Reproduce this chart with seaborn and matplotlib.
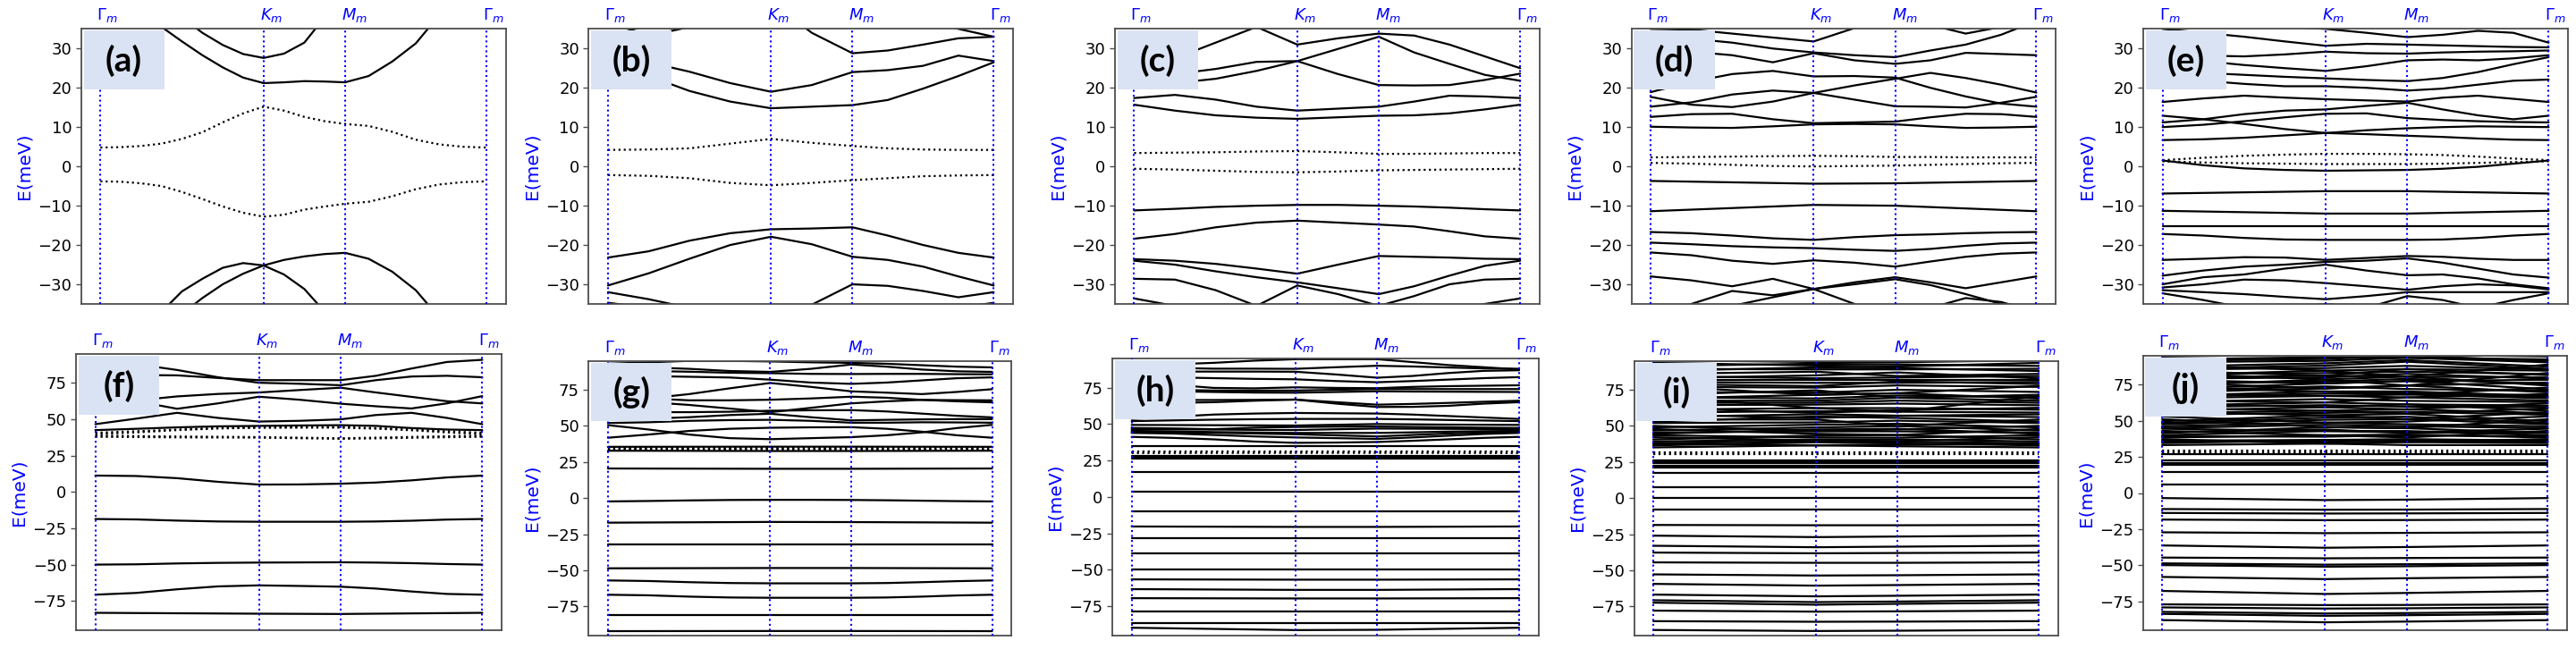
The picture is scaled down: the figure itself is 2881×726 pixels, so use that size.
import numpy as np
import pandas as pd
import matplotlib
matplotlib.use("Agg")
import matplotlib.pyplot as plt
import matplotlib.transforms as mtransforms
from matplotlib.patches import Rectangle
import seaborn as sns

# ---------------- k-path ----------------
K_HS = [0.0, 1.0, 1.5, 2.366]
K_FINE = [0.0, 0.25, 0.5, 0.75, 1.0, 1.25, 1.5, 1.7165, 1.933, 2.1495, 2.366]
K_FINER = [0.0, 0.125, 0.25, 0.375, 0.5, 0.625, 0.75, 0.875, 1.0,
           1.125, 1.25, 1.375, 1.5, 1.644, 1.789, 1.933, 2.077, 2.222, 2.366]
HS_LABELS = [r"$\Gamma_m$", r"$K_m$", r"$M_m$", r"$\Gamma_m$"]
PANEL_LABELS = ["(a)", "(b)", "(c)", "(d)", "(e)", "(f)", "(g)", "(h)", "(i)", "(j)"]
YTICKS_TOP = [-30, -20, -10, 0, 10, 20, 30]
YTICKS_BOT = [-75, -50, -25, 0, 25, 50, 75]

# ---------------- band data (meV) ----------------
a_solid = [
    [42, 41, 39, 35.5, 31.8, 28.3, 25.2, 22.6, 21.2, 21.4, 21.7, 21.6, 21.4, 23, 26.7, 31.3, 38.5, 41, 42],
    [48, 47, 45, 42, 38, 34, 30.9, 28.6, 27.6, 28.7, 31.5, 38, 40, 43, 45, 47, 48, 48, 48],
    [-48, -46, -42, -37, -31.8, -28.6, -25.8, -24.6, -25.2, -27.5, -31.2, -37, -42, -46, -48, -48, -48, -48, -48],
    [-60, -55, -48, -42, -37.5, -33.5, -30, -27.3, -25.2, -23.8, -22.9, -22.3, -22, -23.5, -26.8, -31.5, -38.5, -42, -44],
]
a_dotted = [
    [4.8, 4.9, 5.2, 5.8, 7.0, 8.7, 11.2, 13.5, 15.2, 14.2, 12.6, 11.5, 10.8, 10.3, 8.8, 6.8, 5.6, 5.0, 4.8],
    [-3.8, -3.9, -4.3, -5.0, -6.5, -8.3, -10.2, -11.8, -12.8, -12.3, -11.0, -10.2, -9.5, -9.0, -7.6, -5.8, -4.6, -4.0, -3.8],
]

b_solid = [
    [26.5, 23, 19.2, 16.5, 14.8, 15.2, 15.6, 16.9, 19.8, 23, 26.5],
    [27, 26.5, 24.1, 21.2, 19, 20.7, 24, 24.5, 25.6, 28.2, 26.8],
    [33, 33.2, 35.5, 39, 42, 34, 28.8, 29.5, 31, 32.6, 33],
    [33, 36, 40, 43, 45, 42, 40, 38, 37, 35, 33],
    [-23.2, -21.6, -18.9, -17, -16, -15.8, -15.5, -17.6, -20, -22, -23.2],
    [-30.3, -27.2, -23.5, -20, -17.9, -19.8, -23, -23.8, -25.5, -28, -30.3],
    [-32, -33.8, -36, -39, -40, -35.2, -30, -30.4, -31.7, -33.3, -32],
    [-34.7, -36, -38, -40, -42, -42, -40, -38, -37, -36, -34.7],
]
b_dotted = [
    [4.2, 4.3, 4.6, 5.8, 7.0, 6.0, 5.2, 4.6, 4.3, 4.2, 4.2],
    [-2.2, -2.4, -3.0, -4.2, -4.8, -4.2, -3.5, -3.0, -2.5, -2.3, -2.2],
]

c_solid = [
    [15.7, 14.2, 13.0, 12.4, 12.1, 12.5, 12.9, 13.0, 13.5, 14.5, 15.7],
    [17.4, 18.2, 17.0, 15.2, 14.2, 14.7, 15.2, 16.5, 18.0, 17.8, 17.4],
    [21.8, 21.2, 22.3, 24.3, 26.8, 29.9, 33.0, 29.0, 26.1, 23.3, 21.8],
    [23.6, 23.5, 24.8, 26.6, 26.8, 23.5, 20.7, 20.6, 20.7, 22.0, 23.6],
    [25.0, 27.5, 31.5, 35.5, 31.0, 32.6, 33.8, 33.3, 31.0, 28.0, 25.0],
    [-11.2, -10.8, -10.3, -10.0, -9.8, -9.8, -10.0, -10.2, -10.5, -10.9, -11.2],
    [-18.4, -17.2, -15.5, -14.3, -13.8, -14.3, -14.8, -15.3, -16.5, -17.8, -18.4],
    [-23.6, -24.0, -24.8, -26.0, -27.3, -25.0, -22.8, -23.0, -23.2, -23.5, -23.6],
    [-24.0, -25.0, -26.7, -28.2, -29.5, -31.0, -32.5, -30.5, -27.8, -25.3, -24.0],
    [-28.6, -28.8, -31.5, -35.5, -30.3, -32.5, -35.5, -33.0, -30.0, -28.8, -28.6],
    [-33.6, -35.5, -37, -38, -38, -38, -38, -38, -37, -35, -33.6],
]
c_dotted = [
    [3.4, 3.5, 3.6, 3.8, 3.9, 3.6, 3.2, 3.2, 3.3, 3.4, 3.4],
    [-0.6, -0.8, -1.1, -1.4, -1.5, -1.3, -1.0, -0.9, -0.8, -0.7, -0.6],
]

d_solid = [
    [-3.7, -4.4, -4.3, -3.7],
    [-11.4, -9.8, -10.0, -11.4],
    [-16.7, -17.0, -17.6, -18.3, -18.7, -18.0, -17.5, -17.3, -17.0, -16.8, -16.7],
    [-19.4, -19.8, -20.3, -20.6, -20.8, -21.2, -21.5, -21.0, -20.2, -19.6, -19.4],
    [-21.9, -22.6, -24.0, -24.8, -23.9, -24.5, -25.5, -24.2, -23.0, -22.2, -21.9],
    [-28.0, -29.0, -30.5, -28.6, -31.2, -29.5, -28.2, -29.5, -31.0, -29.5, -28.0],
    [-40.0, -35.0, -31.7, -32.8, -31.2, -30.0, -28.7, -30.2, -32.5, -35.0, -38.0],
    [-42.0, -38.0, -35.5, -33.3, -31.2, -35.0, -40.0, -36.0, -33.5, -34.5, -37.0],
    [10.1, 9.9, 9.8, 10.2, 10.7, 10.8, 10.7, 10.2, 9.8, 9.9, 10.1],
    [12.6, 13.3, 13.4, 12.0, 11.0, 11.2, 11.4, 12.5, 13.4, 13.3, 12.6],
    [17.7, 15.7, 15.1, 16.5, 18.7, 20.6, 22.3, 23.8, 22.5, 20.8, 18.8],
    [15.2, 16.3, 18.3, 19.3, 18.7, 17.0, 15.3, 15.2, 15.0, 16.2, 17.7],
    [18.9, 21.5, 23.5, 24.3, 22.9, 23.0, 22.6, 20.0, 17.8, 16.0, 15.2],
    [29.5, 29.2, 28.3, 26.5, 28.8, 27.0, 26.1, 27.0, 28.9, 28.6, 28.3],
    [33.0, 32.5, 31.5, 30.0, 29.0, 28.3, 27.8, 29.5, 31.0, 33.5, 37.0],
    [35.0, 34.8, 33.8, 32.8, 31.8, 35.2, 37.0, 36.0, 33.8, 35.5, 37.0],
]
d_dotted = [
    [2.3, 2.4, 2.5, 2.6, 2.7, 2.6, 2.4, 2.4, 2.3, 2.3, 2.3],
    [0.9, 0.7, 0.4, 0.1, 0.0, 0.1, 0.2, 0.4, 0.6, 0.8, 0.9],
]

e_solid = [
    [1.5, 0.3, -0.5, -0.9, -1.1, -1.0, -0.9, -0.6, -0.1, 0.7, 1.5],
    [-6.9, -6.3, -6.3, -6.9],
    [-11.3, -12.0, -12.0, -11.3],
    [-15.3, -15.3, -15.3, -15.3],
    [-17.2, -17.6, -18.2, -18.6, -18.7, -18.7, -18.7, -18.6, -18.2, -17.6, -17.2],
    [-23.8, -23.5, -23.1, -23.2, -23.8, -23.3, -22.8, -23.0, -23.5, -23.8, -23.8],
    [-27.8, -26.5, -25.5, -25.0, -24.3, -24.0, -23.4, -24.5, -26.0, -27.5, -28.3],
    [-30.0, -28.2, -27.5, -26.0, -25.0, -26.5, -27.7, -27.5, -28.5, -30.0, -31.0],
    [-30.8, -30.0, -28.8, -29.0, -29.7, -30.5, -31.4, -30.5, -30.0, -30.3, -31.3],
    [-31.5, -32.0, -32.5, -33.2, -33.8, -33.0, -32.0, -32.0, -32.0, -32.0, -32.0],
    [-32.3, -34.0, -36.0, -36.0, -35.0, -36.0, -33.0, -34.0, -36.0, -34.0, -32.3],
    [6.7, 6.9, 7.3, 7.9, 8.5, 8.2, 7.8, 7.5, 7.1, 6.8, 6.7],
    [10.0, 10.6, 11.5, 12.5, 13.4, 13.5, 12.3, 11.8, 11.5, 11.3, 11.2],
    [12.9, 12.0, 10.8, 9.5, 8.5, 9.2, 9.7, 10.0, 10.2, 10.1, 10.0],
    [11.2, 12.0, 13.3, 14.2, 14.5, 15.4, 16.2, 14.5, 13.0, 12.0, 12.9],
    [16.4, 17.3, 18.0, 17.5, 17.1, 16.8, 16.5, 17.5, 18.0, 17.2, 16.4],
    [22.1, 21.8, 21.0, 20.4, 20.4, 20.0, 19.3, 19.8, 20.8, 21.8, 22.1],
    [24.5, 23.8, 23.3, 22.8, 22.4, 22.0, 21.7, 22.5, 24.0, 26.0, 27.8],
    [27.5, 26.8, 25.8, 25.0, 24.3, 25.5, 27.0, 27.2, 27.0, 27.5, 28.3],
    [28.3, 28.2, 28.0, 28.5, 29.2, 28.8, 28.7, 29.0, 29.2, 29.3, 29.5],
    [35.0, 34.0, 33.0, 31.8, 30.7, 31.2, 31.0, 30.8, 30.6, 30.4, 30.3],
    [38.0, 37.0, 36.0, 35.5, 35.0, 34.0, 32.9, 33.5, 34.5, 34.0, 31.5],
]
e_dotted = [
    [1.6, 2.2, 2.7, 3.0, 3.2, 3.2, 3.1, 2.9, 2.5, 2.0, 1.6],
    [1.3, 1.0, 0.8, 0.7, 0.6, 0.6, 0.6, 0.7, 0.9, 1.1, 1.3],
]

f_solid = [
    [11.3, 11.0, 9.5, 7.0, 5.1, 5.2, 5.7, 6.5, 8.0, 10.0, 11.3],
    [-18.6, -18.9, -19.7, -20.3, -20.5, -20.5, -20.5, -20.3, -19.8, -19.0, -18.6],
    [-50.0, -49.8, -49.2, -48.8, -48.6, -48.5, -48.4, -48.6, -49.0, -49.6, -50.0],
    [-70.7, -69.5, -67.0, -65.0, -64.3, -64.7, -65.2, -66.5, -68.5, -70.2, -70.7],
    [-83.2, -83.8, -84.0, -83.2],
    [42.6, 43.5, 44.5, 45.2, 45.5, 45.8, 46.0, 45.5, 44.0, 43.0, 42.6],
    [46.7, 50.5, 54.5, 51.0, 48.5, 49.0, 50.0, 53.0, 54.5, 51.0, 46.7],
    [66.0, 62.5, 57.3, 61.0, 65.6, 63.5, 60.8, 59.0, 57.5, 61.0, 66.0],
    [61.0, 63.0, 65.8, 67.5, 68.5, 70.2, 71.8, 68.5, 65.5, 62.5, 61.0],
    [91.0, 88.0, 84.0, 79.0, 75.2, 74.5, 73.5, 77.0, 79.5, 80.0, 79.0],
    [80.5, 80.5, 80.3, 78.5, 77.0, 77.0, 77.0, 80.0, 85.0, 89.5, 91.0],
]
f_dotted = [
    [40.8, 41.8, 43.0, 44.0, 44.5, 44.6, 44.6, 44.0, 43.0, 41.8, 40.8],
    [39.8, 41.0, 42.6, 43.7, 44.2, 44.3, 44.3, 43.6, 42.5, 41.0, 39.8],
    [38.8, 38.5, 38.2, 38.0, 37.8, 37.4, 37.0, 37.4, 37.9, 38.4, 38.8],
    [38.0, 37.8, 37.6, 37.5, 37.4, 37.0, 36.6, 36.9, 37.3, 37.7, 38.0],
]

g_solid = [
    [20.5, 20.3, 20.3, 20.5],
    [-2.3, -2.0, -1.6, -1.3, -1.2, -1.2, -1.3, -1.5, -1.8, -2.1, -2.3],
    [-17.0, -16.5, -16.6, -17.0],
    [-32.3, -32.3, -32.3, -32.3],
    [-48.6, -48.4, -48.4, -48.6],
    [-57.0, -57.4, -58.2, -58.8, -59.0, -59.0, -59.0, -58.8, -58.2, -57.5, -57.0],
    [-66.9, -67.3, -68.2, -68.8, -69.0, -69.0, -69.0, -68.8, -68.2, -67.4, -66.9],
    [-80.7, -80.7, -80.7, -80.7],
    [-92.1, -92.0, -92.0, -92.1],
    [35.5, 35.6, 35.6, 35.5],
    [32.8, 32.6, 32.6, 32.8],
    [50.5, 47.5, 44.0, 41.5, 40.8, 41.5, 42.2, 43.5, 45.5, 48.5, 50.7],
    [41.8, 44.0, 46.5, 48.0, 48.7, 49.0, 49.1, 48.0, 46.0, 43.5, 41.8],
    [52.0, 52.5, 53.5, 54.0, 54.2, 53.5, 52.2, 52.2, 52.5, 52.4, 52.2],
    [54.7, 55.0, 56.0, 57.5, 58.4, 56.0, 53.8, 54.2, 54.5, 54.7, 54.7],
    [59.4, 59.5, 59.5, 59.8, 60.5, 60.8, 60.9, 60.0, 58.5, 57.0, 55.9],
    [67.7, 66.5, 64.5, 62.0, 59.5, 62.5, 65.6, 67.0, 68.0, 67.8, 67.7],
    [70.8, 69.0, 67.7, 67.7, 68.1, 69.0, 70.2, 69.5, 68.0, 67.0, 66.3],
    [66.3, 69.0, 72.0, 76.0, 79.7, 77.0, 73.9, 73.0, 72.0, 73.5, 75.4],
    [85.0, 84.5, 84.0, 83.5, 82.0, 80.0, 79.1, 80.0, 81.5, 83.0, 83.6],
    [88.5, 88.0, 87.5, 86.8, 86.5, 86.0, 85.9, 86.0, 86.0, 85.8, 85.7],
    [90.5, 90.5, 89.5, 88.0, 87.4, 89.5, 92.5, 91.0, 89.0, 87.8, 87.4],
    [93.0, 94.0, 95.0, 95.0, 94.6, 94.0, 93.6, 93.0, 92.0, 91.0, 90.5],
]
g_dotted = [
    [34.6, 34.7, 34.7, 34.6],
    [33.8, 33.8, 33.8, 33.8],
    [34.2, 34.2, 34.2, 34.2],
]

h_solid = [
    [16.8, 16.8, 16.8, 16.8],
    [3.7, 3.7, 3.7, 3.7],
    [-10.2, -10.2, -10.2, -10.2],
    [-20.3, -20.6, -20.6, -20.3],
    [-28.5, -28.5, -28.5, -28.5],
    [-38.9, -38.9, -38.9, -38.9],
    [-49.8, -49.8, -49.8, -49.8],
    [-56.6, -56.8, -56.8, -56.6],
    [-63.3, -63.8, -63.8, -63.3],
    [-69.5, -69.7, -69.7, -69.5],
    [-78.7, -78.7, -78.7, -78.7],
    [-86.9, -86.9, -86.9, -86.9],
    [-89.8, -91.4, -91.2, -89.8],
    [28.3, 28.3, 28.3, 28.3],
    [27.0, 27.0, 27.0, 27.0],
    [26.2, 26.2, 26.2, 26.2],
    [34.6, 34.6, 34.6, 34.6],
    [41.2, 40.5, 39.5, 38.0, 37.1, 37.3, 37.7, 38.5, 39.5, 40.5, 41.2],
    [43.9, 43.5, 42.5, 41.5, 40.8, 40.3, 39.8, 40.8, 42.0, 43.2, 43.9],
    [45.3, 45.0, 44.5, 44.2, 43.9, 43.9, 43.9, 44.3, 44.8, 45.1, 45.3],
    [46.5, 46.4, 46.2, 46.0, 45.9, 46.4, 46.9, 46.8, 46.7, 46.6, 46.5],
    [49.4, 49.3, 49.2, 49.1, 49.0, 49.5, 50.0, 49.8, 49.6, 49.5, 49.4],
    [52.0, 52.5, 53.0, 53.3, 53.5, 53.5, 53.5, 53.2, 52.8, 52.4, 52.0],
    [53.5, 55.0, 56.5, 57.2, 57.6, 57.4, 57.2, 56.5, 55.5, 54.5, 53.5],
    [65.0, 64.5, 65.0, 66.0, 66.8, 64.0, 61.7, 61.8, 62.5, 64.0, 65.0],
    [66.0, 66.5, 66.5, 66.6, 66.8, 65.0, 63.3, 63.8, 64.5, 65.3, 66.0],
    [72.5, 72.5, 72.0, 71.6, 71.5, 72.0, 72.5, 72.3, 72.2, 72.1, 72.0],
    [79.7, 77.0, 74.8, 74.5, 75.2, 74.8, 74.6, 75.5, 76.0, 76.3, 76.6],
    [82.2, 82.0, 81.5, 81.0, 80.7, 79.5, 78.7, 79.5, 80.5, 81.5, 82.2],
    [85.9, 86.0, 86.0, 86.0, 85.9, 84.0, 81.8, 83.0, 85.0, 86.5, 86.9],
    [88.9, 88.5, 88.0, 88.0, 87.9, 89.0, 90.0, 89.5, 88.8, 88.2, 87.9],
    [90.0, 91.0, 92.0, 93.5, 94.5, 94.5, 94.5, 92.5, 90.5, 89.0, 87.5],
    [44.5, 44.3, 44.0, 43.5, 43.0, 42.2, 41.5, 42.5, 43.5, 44.2, 44.5],
    [47.3, 47.0, 46.5, 47.5, 48.0, 48.2, 48.3, 48.0, 47.8, 47.5, 47.3],
    [74.0, 73.5, 73.0, 73.0, 73.0, 73.5, 74.0, 74.0, 74.0, 74.0, 74.0],
]
h_dotted = [
    [30.9, 30.9, 30.9, 30.9],
    [30.1, 30.2, 30.2, 30.1],
]

i_solid = [
    [17.5, 17.5, 17.5, 17.5],
    [7.6, 7.6, 7.6, 7.6],
    [0.0, 0.0, 0.0, 0.0],
    [-8.2, -8.2, -8.2, -8.2],
    [-18.6, -18.8, -18.8, -18.6],
    [-26.0, -27.0, -26.6, -26.0],
    [-33.0, -34.0, -33.6, -33.0],
    [-37.7, -38.2, -38.0, -37.7],
    [-44.5, -44.8, -44.8, -44.5],
    [-52.8, -53.6, -53.4, -52.8],
    [-59.4, -60.6, -60.2, -59.4],
    [-66.8, -68.0, -67.6, -66.8],
    [-70.7, -72.0, -71.6, -70.7],
    [-72.4, -73.8, -73.2, -72.4],
    [-77.9, -78.6, -78.4, -77.9],
    [-85.2, -85.6, -85.5, -85.2],
    [-91.3, -92.0, -91.8, -91.3],
    [26.2, 26.2, 26.2, 26.2],
    [25.2, 25.2, 25.2, 25.2],
    [24.1, 24.1, 24.1, 24.1],
    [22.7, 22.7, 22.7, 22.7],
    [21.4, 21.4, 21.4, 21.4],
    [35.1, 36.5, 35.9, 35.1],
    [36.5, 38.6, 37.9, 36.5],
    [37.5, 36.5, 37.0, 37.5],
    [38.0, 39.5, 39.0, 38.0],
    [39.2, 40.6, 40.6, 39.2],
    [40.6, 43.3, 43.7, 40.6],
    [42.1, 40.0, 39.5, 42.1],
    [43.5, 42.0, 41.8, 43.5],
    [44.5, 47.5, 48.0, 44.5],
    [45.4, 46.2, 46.2, 45.4],
    [46.8, 48.9, 49.9, 46.8],
    [47.8, 44.5, 43.7, 47.8],
    [49.0, 50.8, 51.5, 49.0],
    [50.0, 46.5, 47.5, 50.0],
    [52.0, 52.4, 53.6, 52.0],
    [53.0, 56.5, 55.5, 53.0],
    [54.4, 54.4, 49.9, 54.4],
    [56.1, 58.1, 57.1, 56.1],
    [58.0, 55.5, 57.0, 58.0],
    [59.2, 60.2, 59.8, 59.2],
    [61.2, 62.3, 62.3, 61.2],
    [62.5, 59.0, 61.0, 62.5],
    [64.3, 64.7, 65.4, 64.3],
    [66.0, 66.0, 67.5, 66.0],
    [67.4, 67.4, 69.5, 67.4],
    [68.9, 71.5, 72.6, 68.9],
    [69.8, 69.0, 71.0, 69.8],
    [70.5, 62.3, 59.8, 70.5],
    [71.5, 74.6, 69.5, 71.5],
    [73.5, 73.0, 75.0, 73.5],
    [77.0, 76.5, 78.0, 77.0],
    [77.7, 71.5, 72.6, 77.7],
    [79.0, 77.5, 80.8, 79.0],
    [80.4, 79.8, 79.8, 80.4],
    [81.9, 81.9, 81.9, 81.9],
    [82.9, 85.0, 87.0, 82.9],
    [84.5, 83.0, 83.5, 84.5],
    [86.0, 87.5, 84.5, 86.0],
    [88.0, 90.5, 90.0, 88.0],
    [89.5, 89.1, 89.1, 89.5],
    [91.5, 93.0, 92.5, 91.5],
    [93.6, 91.8, 91.1, 93.6],
    [95.5, 94.2, 94.0, 95.5],
]
i_dotted = [
    [31.8, 31.8, 31.8, 31.8],
    [30.3, 30.3, 30.3, 30.3],
]

j_solid = [
    [14.6, 14.6, 14.6, 14.6],
    [5.8, 5.8, 5.8, 5.8],
    [-3.5, -4.9, -4.6, -3.5],
    [-11.1, -11.6, -11.5, -11.1],
    [-13.8, -14.2, -14.1, -13.8],
    [-18.4, -18.8, -18.7, -18.4],
    [-27.2, -27.8, -27.6, -27.2],
    [-36.3, -37.9, -37.4, -36.3],
    [-44.7, -45.2, -45.0, -44.7],
    [-48.7, -49.6, -49.3, -48.7],
    [-49.9, -51.0, -50.7, -49.9],
    [-58.1, -59.6, -59.0, -58.1],
    [-67.8, -69.9, -69.2, -67.8],
    [-77.1, -77.6, -77.5, -77.1],
    [-79.2, -80.0, -79.8, -79.2],
    [-82.3, -83.4, -83.1, -82.3],
    [-83.7, -85.0, -84.6, -83.7],
    [-88.0, -89.5, -89.0, -88.0],
    [27.0, 27.0, 27.0, 27.0],
    [22.3, 22.3, 22.3, 22.3],
    [20.8, 20.8, 20.8, 20.8],
    [19.8, 19.8, 19.8, 19.8],
    [33.2, 34.2, 33.2, 33.2],
    [34.6, 36.7, 35.3, 34.6],
    [35.5, 35.5, 36.3, 35.5],
    [36.3, 36.7, 37.3, 36.3],
    [37.3, 34.2, 35.3, 37.3],
    [38.4, 40.0, 40.4, 38.4],
    [39.2, 39.0, 40.0, 39.2],
    [40.0, 42.9, 42.9, 40.0],
    [41.4, 45.6, 44.9, 41.4],
    [42.2, 44.0, 41.5, 42.2],
    [43.0, 40.0, 38.5, 43.0],
    [44.5, 42.9, 42.0, 44.5],
    [45.0, 47.2, 46.2, 45.0],
    [46.2, 48.7, 47.6, 46.2],
    [47.6, 50.7, 51.1, 47.6],
    [48.5, 52.2, 52.8, 48.5],
    [49.7, 53.8, 54.8, 49.7],
    [51.1, 45.6, 44.9, 51.1],
    [53.0, 48.7, 49.5, 53.0],
    [54.2, 55.5, 56.2, 54.2],
    [55.3, 57.0, 57.9, 55.3],
    [56.0, 53.8, 51.1, 56.0],
    [57.0, 59.4, 61.4, 57.0],
    [58.6, 57.0, 54.8, 58.6],
    [59.5, 60.8, 59.8, 59.5],
    [60.5, 62.7, 61.4, 60.5],
    [62.1, 59.4, 57.9, 62.1],
    [63.0, 65.0, 63.8, 63.0],
    [64.0, 62.7, 66.2, 64.0],
    [65.6, 67.2, 68.2, 65.6],
    [66.5, 68.8, 69.2, 66.5],
    [67.2, 70.3, 70.3, 67.2],
    [68.5, 67.2, 66.2, 68.5],
    [69.7, 72.4, 74.4, 69.7],
    [70.8, 73.8, 72.0, 70.8],
    [71.8, 75.9, 77.5, 71.8],
    [73.0, 70.3, 68.2, 73.0],
    [74.4, 78.6, 80.6, 74.4],
    [75.5, 77.2, 79.0, 75.5],
    [76.5, 72.4, 74.4, 76.5],
    [78.4, 75.9, 77.5, 78.4],
    [79.2, 80.0, 82.5, 79.2],
    [80.0, 81.2, 80.6, 80.0],
    [81.6, 84.7, 85.8, 81.6],
    [82.3, 83.0, 84.0, 82.3],
    [83.1, 78.6, 74.4, 83.1],
    [84.7, 81.2, 85.8, 84.7],
    [85.5, 86.5, 88.0, 85.5],
    [86.0, 88.2, 90.9, 86.0],
    [87.5, 89.8, 92.0, 87.5],
    [88.9, 84.7, 80.6, 88.9],
    [90.5, 91.5, 93.6, 90.5],
    [91.5, 92.8, 95.0, 91.5],
    [92.5, 94.0, 93.6, 92.5],
    [94.5, 96.0, 96.0, 94.5],
]
j_dotted = [
    [29.1, 29.1, 29.1, 29.1],
    [28.0, 28.0, 28.0, 28.0],
]

SOLIDS = [a_solid, b_solid, c_solid, d_solid, e_solid,
          f_solid, g_solid, h_solid, i_solid, j_solid]
DOTTEDS = [a_dotted, b_dotted, c_dotted, d_dotted, e_dotted,
           f_dotted, g_dotted, h_dotted, i_dotted, j_dotted]

# ---------------- layout (pixels: left, top, right, bottom) ----------------
W, H = 2881, 726
RECTS = [
    (90.7, 32.3, 565.6, 340), (658.4, 32.3, 1132.9, 340),
    (1246.8, 32.3, 1721.7, 340), (1824.5, 32.3, 2299, 340),
    (2397, 32.3, 2872, 340),
    (85, 396, 561, 704.7), (658.4, 403.7, 1131, 710.7),
    (1244, 401, 1720.6, 710.7), (1827.5, 403.7, 2301.7, 710.7),
    (2396.6, 398, 2871, 705),
]

GRIDS = {len(K_HS): K_HS, len(K_FINE): K_FINE, len(K_FINER): K_FINER}


def to_long(bands):
    rows = []
    for i, b in enumerate(bands):
        ks = GRIDS[len(b)]
        for k, e in zip(ks, b):
            rows.append((i, k, e))
    return pd.DataFrame(rows, columns=["band", "k", "E"])


sns.set_style("ticks")
plt.rcParams["font.family"] = ["DejaVu Sans"]
plt.rcParams["mathtext.fontset"] = "dejavusans"

fig = plt.figure(figsize=(W / 100, H / 100), dpi=100)
spine_c = "#4d4d4d"
kmax = K_HS[-1]
margin = 0.05 * kmax

for idx in range(10):
    l, t, r, b = RECTS[idx]
    ax = fig.add_axes([l / W, 1 - b / H, (r - l) / W, (b - t) / H])
    top_row = idx < 5

    df_s = to_long(SOLIDS[idx])
    df_d = to_long(DOTTEDS[idx])
    sns.lineplot(data=df_s, x="k", y="E", units="band", estimator=None,
                 sort=False, color="black", linewidth=1.6, ax=ax,
                 legend=False, zorder=2)
    sns.lineplot(data=df_d, x="k", y="E", units="band", estimator=None,
                 sort=False, color="black", linewidth=1.6, linestyle=":",
                 ax=ax, legend=False, zorder=2)

    for kx in K_HS:
        ax.axvline(kx, color="blue", linestyle=":", linewidth=1.5, zorder=3)

    ax.set_xlim(-margin, kmax + margin)
    if top_row:
        ax.set_ylim(-35, 35)
        ax.set_yticks(YTICKS_TOP)
    else:
        ax.set_ylim(-95, 95)
        ax.set_yticks(YTICKS_BOT)
    ax.set_xticks([])
    ax.set_xlabel("")
    ax.set_ylabel("E(meV)", color="blue", fontsize=14.5, labelpad=4)
    ax.tick_params(axis="y", labelsize=13, length=4, width=1.0,
                   color=spine_c, labelcolor="black", direction="out")
    for sp in ax.spines.values():
        sp.set_color(spine_c)
        sp.set_linewidth(1.3)
        sp.set_visible(True)

    trans = mtransforms.offset_copy(ax.get_xaxis_transform(), fig=fig,
                                    x=-4, y=5, units="dots")
    for kx, lab in zip(K_HS, HS_LABELS):
        ax.text(kx, 1.0, lab, transform=trans, color="blue", fontsize=13,
                ha="left", va="bottom")

    ax.add_patch(Rectangle((0.006, 0.78), 0.19, 0.213, transform=ax.transAxes,
                           facecolor="#dae3f3", edgecolor="none", zorder=5,
                           clip_on=False))
    ax.text(0.101, 0.884, PANEL_LABELS[idx], transform=ax.transAxes,
            ha="center", va="center", fontsize=28, fontweight="bold",
            family=["Lato", "DejaVu Sans"], color="black", zorder=6)

fig.savefig("out.png", dpi=100)
